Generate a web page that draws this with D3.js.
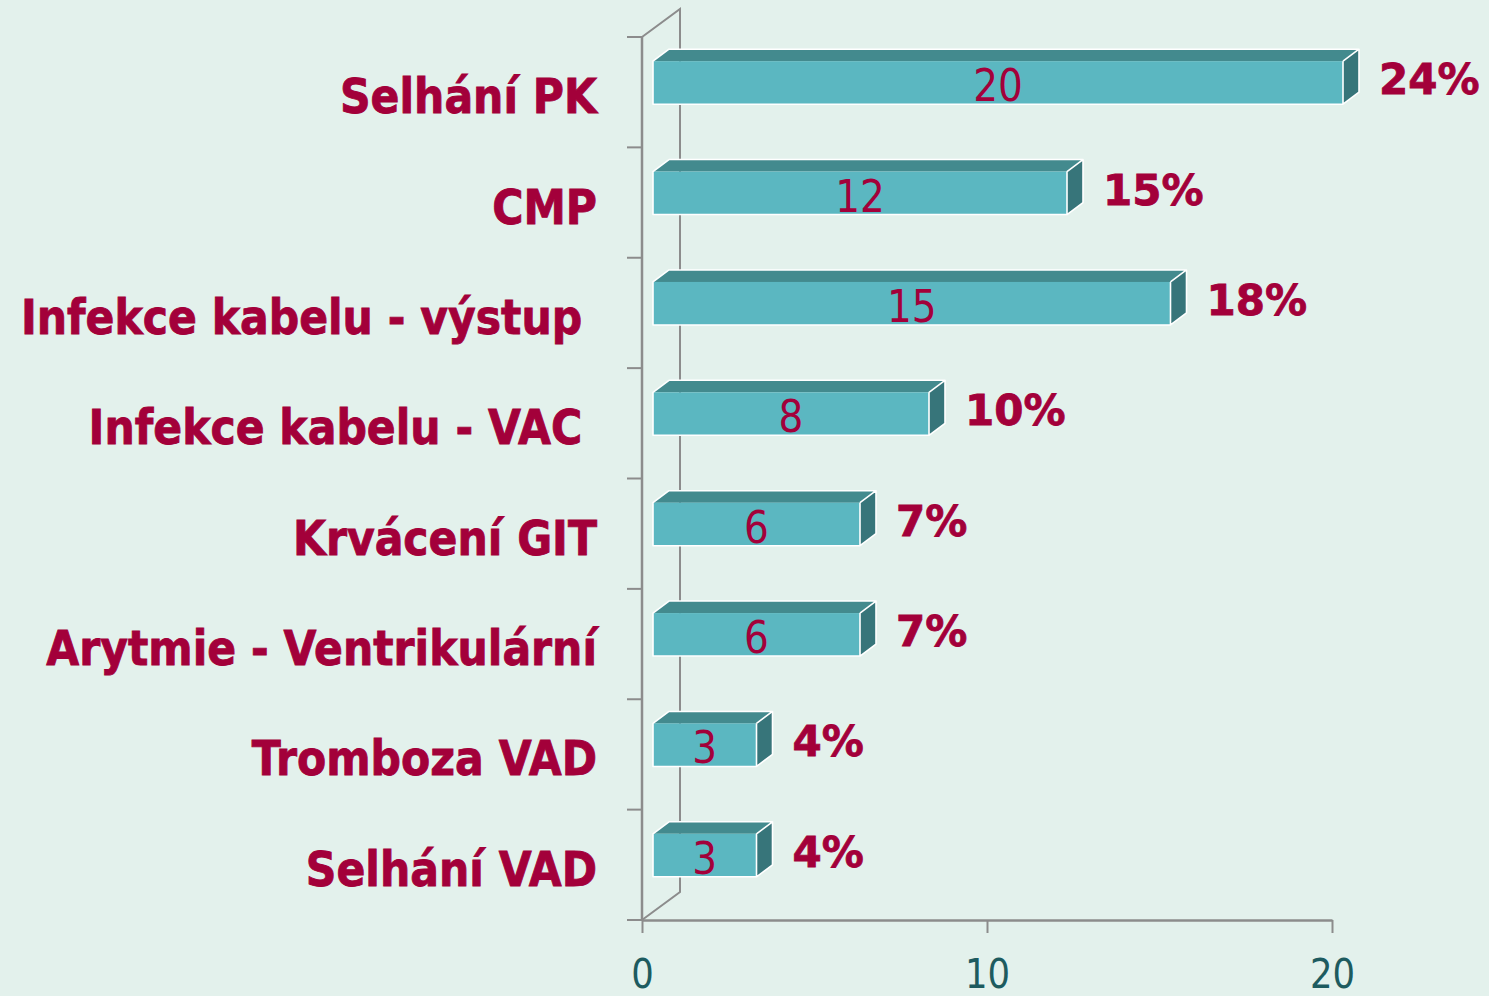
<!DOCTYPE html>
<html>
<head>
<meta charset="utf-8">
<script src="https://cdn.jsdelivr.net/npm/d3@7"></script>
<style>
  body { margin: 0; background: #e3f1ec; }
  svg { display: block; }
  .cat, .pct, .val, .tick text { font-family: "DejaVu Sans", Verdana, sans-serif; }
</style>
</head>
<body>
<div id="chart"></div>
<script>
// data
var categories = ["Selhání PK", "CMP", "Infekce kabelu - výstup ", "Infekce kabelu - VAC ",
                  "Krvácení GIT", "Arytmie - Ventrikulární", "Tromboza VAD", "Selhání VAD"];
var counts = [20, 12, 15, 8, 6, 6, 3, 3];
var percents = ["24%", "15%", "18%", "10%", "7%", "7%", "4%", "4%"];
var xTicks = [0, 10, 20];

var svg = d3.select("#chart").append("svg");
svg.attr("width", "1489");
svg.attr("height", "996");
var width = +svg.attr("width"),
    height = +svg.attr("height");

var red = "#a3003a",
    axisGrey = "#8c8c8c",
    squeeze = 0.887; // narrower text, like Tahoma

var x = d3.scaleLinear()
    .domain([0, 20])
    .range([642, 1332]);

var y = d3.scaleBand()
    .domain(categories)
    .range([37, 920])
    .padding(0);

// depth of the 3d floor and bars
var wallDx = 38, wallDy = -28;
var barOff = 11, barDx = 16, barDy = -12, barUp = 31, barDown = 12;

var g = svg.append("g");

// back wall
g.append("path")
    .attr("d", "M" + x(0) + "," + y.range()[0] + "l" + wallDx + "," + wallDy +
               "V" + (y.range()[1] + wallDy) + "L" + x(0) + "," + y.range()[1])
    .attr("fill", "none")
    .attr("stroke", axisGrey)
    .attr("stroke-width", 2);

// left axis with ticks on the band edges
var edges = categories.map(function (c) { return y(c); }).concat([y.range()[1]]);
g.append("line")
    .attr("x1", x(0)).attr("x2", x(0))
    .attr("y1", y.range()[0]).attr("y2", y.range()[1])
    .attr("stroke", axisGrey).attr("stroke-width", 2.5);
g.selectAll(".ytick")
    .data(edges)
    .enter().append("line")
    .attr("class", "ytick")
    .attr("x1", x(0) - 15).attr("x2", x(0))
    .attr("y1", function (d) { return d; })
    .attr("y2", function (d) { return d; })
    .attr("stroke", axisGrey).attr("stroke-width", 2);

// bottom axis
var xAxis = g.append("g")
    .attr("transform", "translate(0," + y.range()[1] + ")")
    .call(d3.axisBottom(x).tickValues(xTicks).tickSize(13).tickSizeOuter(0).tickPadding(27));
xAxis.select(".domain").attr("stroke", axisGrey).attr("stroke-width", 2.5);
xAxis.selectAll(".tick line").attr("stroke", axisGrey).attr("stroke-width", 2);
xAxis.selectAll(".tick text")
    .attr("fill", "#1d5b5f")
    .attr("font-size", 40)
    .attr("transform", "scale(" + squeeze + ",1)");

// bars
var bars = g.selectAll(".bar")
    .data(counts)
    .enter().append("g")
    .attr("class", "bar");

function mid(i) { return y(categories[i]) + y.bandwidth() / 2; }

bars.each(function (v, i) {
    var b = d3.select(this);
    var x0 = x(0) + barOff, x1 = x(v) + barOff;
    var top = mid(i) - barUp, bot = mid(i) + barDown;
    b.append("path")
        .attr("d", "M" + x0 + "," + top + "l" + barDx + "," + barDy + "H" + (x1 + barDx) +
                   "L" + x1 + "," + top + "Z")
        .attr("fill", "#438a8e");
    b.append("path")
        .attr("d", "M" + x1 + "," + top + "l" + barDx + "," + barDy + "V" + (bot + barDy) +
                   "L" + x1 + "," + bot + "Z")
        .attr("fill", "#37757a");
    b.append("rect")
        .attr("x", x0).attr("y", top)
        .attr("width", x1 - x0).attr("height", bot - top)
        .attr("fill", "#5bb7c1");
    b.append("path")
        .attr("d", "M" + x0 + "," + bot + "V" + top + "l" + barDx + "," + barDy + "H" + (x1 + barDx) +
                   "V" + (bot + barDy) + "L" + x1 + "," + bot + "Z" +
                   "M" + x1 + "," + top + "l" + barDx + "," + barDy +
                   "M" + x1 + "," + top + "V" + bot)
        .attr("fill", "none")
        .attr("stroke", "#ffffff")
        .attr("stroke-width", 1.6)
        .attr("stroke-linejoin", "round");
    b.append("text")
        .attr("class", "val")
        .attr("transform", "translate(" + (x0 + x1) / 2 + "," + (mid(i) + 9) + ") scale(" + squeeze + ",1)")
        .attr("text-anchor", "middle")
        .attr("font-size", 44)
        .attr("fill", red)
        .text(v);
});

// percentages
g.selectAll(".pct")
    .data(percents)
    .enter().append("text")
    .attr("class", "pct")
    .attr("x", function (d, i) { return x(counts[i]) + barOff + barDx + 20; })
    .attr("y", function (d, i) { return mid(i) + 2; })
    .attr("font-size", 42)
    .attr("font-weight", "bold")
    .attr("fill", red)
    .attr("stroke", red)
    .attr("stroke-width", 0.8)
    .text(function (d) { return d; });

// category labels
g.selectAll(".cat")
    .data(categories)
    .enter().append("text")
    .attr("class", "cat")
    .attr("transform", function (d) {
        return "translate(597," + (y(d) + y.bandwidth() / 2 + 21) + ") scale(" + squeeze + ",1)";
    })
    .attr("text-anchor", "end")
    .attr("font-size", 48)
    .attr("font-weight", "bold")
    .attr("fill", red)
    .attr("stroke", red)
    .attr("stroke-width", 0.9)
    .style("white-space", "pre")
    .text(function (d) { return d; });
</script>
</body>
</html>
